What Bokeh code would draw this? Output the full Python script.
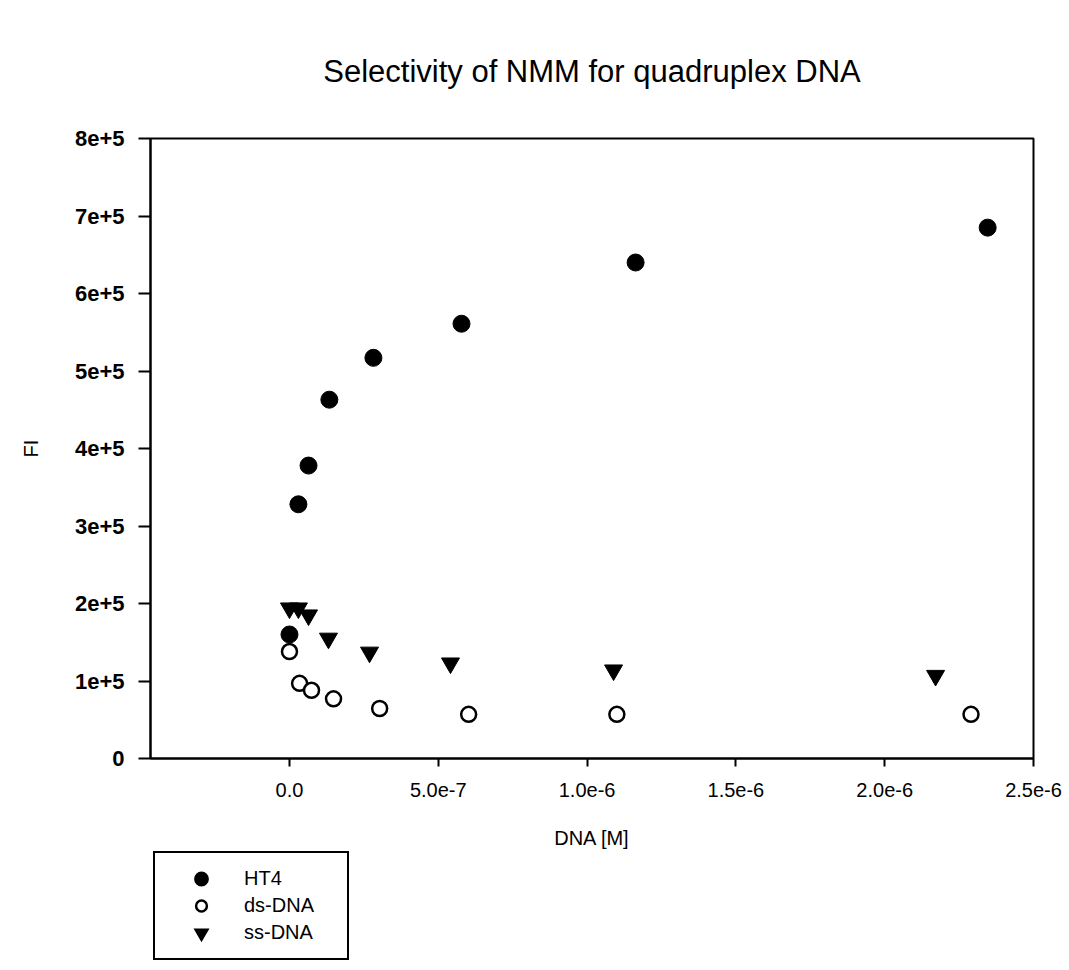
from bokeh.plotting import figure
from bokeh.layouts import column
from bokeh.models import Range1d, FixedTicker, Legend, LegendItem
from bokeh.embed import file_html
from bokeh.resources import INLINE

# ---- data ----
ht4_x = [0.0, 3.0e-8, 6.4e-8, 1.34e-7, 2.82e-7, 5.78e-7, 1.163e-6, 2.346e-6]
ht4_y = [1.60e5, 3.28e5, 3.78e5, 4.63e5, 5.17e5, 5.61e5, 6.40e5, 6.85e5]

ds_x = [0.0, 3.4e-8, 7.4e-8, 1.48e-7, 3.03e-7, 6.02e-7, 1.10e-6, 2.29e-6]
ds_y = [1.38e5, 0.97e5, 0.88e5, 0.77e5, 0.645e5, 0.57e5, 0.57e5, 0.57e5]

ss_x = [0.0, 3.0e-8, 6.4e-8, 1.31e-7, 2.69e-7, 5.41e-7, 1.089e-6, 2.171e-6]
ss_y = [1.94e5, 1.94e5, 1.85e5, 1.55e5, 1.37e5, 1.23e5, 1.14e5, 1.07e5]

x_ticks = [0.0, 5e-7, 1e-6, 1.5e-6, 2e-6, 2.5e-6]
x_tick_labels = ["0.0", "5.0e-7", "1.0e-6", "1.5e-6", "2.0e-6", "2.5e-6"]
y_ticks = [0, 1e5, 2e5, 3e5, 4e5, 5e5, 6e5, 7e5, 8e5]
y_tick_labels = ["0", "1e+5", "2e+5", "3e+5", "4e+5", "5e+5", "6e+5", "7e+5", "8e+5"]

series_names = ["HT4", "ds-DNA", "ss-DNA"]

FONT = "Liberation Sans"

p = figure(frame_width=883, frame_height=620,
           min_border_left=150, min_border_right=36,
           min_border_top=138, min_border_bottom=90,
           x_range=Range1d(-4.67e-7, 2.5e-6), y_range=Range1d(0, 8e5),
           output_backend="svg", toolbar_location=None,
           title="Selectivity of NMM for quadruplex DNA")

p.title.align = "center"
p.title.text_font = FONT
p.title.text_font_size = "31px"
p.title.text_font_style = "normal"
p.title.text_color = "black"
p.title.standoff = 100

p.grid.visible = False
p.outline_line_color = "black"
p.outline_line_width = 2
p.outline_line_alpha = 1
p.background_fill_color = "white"
p.border_fill_color = "white"

p.xaxis.ticker = FixedTicker(ticks=x_ticks)
p.xaxis.major_label_overrides = dict(zip(x_ticks, x_tick_labels))
p.yaxis.ticker = FixedTicker(ticks=y_ticks)
p.yaxis.major_label_overrides = {float(k): v for k, v in zip(y_ticks, y_tick_labels)}

for ax in (p.xaxis[0], p.yaxis[0]):
    ax.axis_line_width = 2
    ax.axis_line_color = "black"
    ax.major_tick_line_width = 2
    ax.major_tick_line_color = "black"
    ax.minor_tick_line_color = None
    ax.major_tick_in = 0
    ax.major_label_text_font = FONT
    ax.major_label_text_color = "black"
    ax.axis_label_text_font = FONT
    ax.axis_label_text_font_size = "20px"
    ax.axis_label_text_font_style = "normal"
    ax.axis_label_text_color = "black"

p.xaxis.major_label_text_font_size = "20px"
p.xaxis.major_tick_out = 8
p.xaxis.major_label_standoff = 16
p.xaxis.axis_label = "DNA [M]"
p.xaxis.axis_label_standoff = 27

p.yaxis.major_label_text_font_size = "22px"
p.yaxis.major_label_text_font_style = "bold"
p.yaxis.major_tick_out = 12
p.yaxis.major_label_standoff = 14
p.yaxis.axis_label = "FI"
p.yaxis.axis_label_standoff = 30

p.scatter(ht4_x, ht4_y, marker="circle", size=17,
          fill_color="black", line_color="black")
p.scatter(ss_x, ss_y, marker="inverted_triangle", size=18,
          fill_color="black", line_color="black")
p.scatter(ds_x, ds_y, marker="circle", size=15,
          fill_color="white", line_color="black", line_width=2.5)

# ---- legend strip below the chart (its own small canvas) ----
# The legend renderers reuse the series data; the strip's ranges lie far from
# the data so only the legend swatches are visible there.
lg = figure(width=1069, height=122, min_border=0,
            x_range=Range1d(10, 11), y_range=Range1d(10, 11),
            x_axis_type=None, y_axis_type=None,
            output_backend="svg", toolbar_location=None)
lg.outline_line_color = None
lg.grid.visible = False
lg.background_fill_color = "white"
lg.border_fill_color = "white"

l_ht4 = lg.scatter(ht4_x, ht4_y, marker="circle", fill_color="black",
                   line_color="black", line_width=4)
l_ds = lg.scatter(ds_x, ds_y, marker="circle", fill_color="white",
                  line_color="black", line_width=2.5)
l_ss = lg.scatter(ss_x, ss_y, marker="inverted_triangle", fill_color="black",
                  line_color="black", line_width=3, line_join="miter")

legend = Legend(items=[LegendItem(label=series_names[0], renderers=[l_ht4]),
                       LegendItem(label=series_names[1], renderers=[l_ds]),
                       LegendItem(label=series_names[2], renderers=[l_ss])],
                location=(3, 13),
                glyph_width=68, glyph_height=27, label_height=27, spacing=0,
                padding=12, margin=0, label_standoff=9, label_width=91,
                label_text_font=FONT, label_text_font_size="20px",
                label_text_color="black",
                border_line_color="black", border_line_width=2,
                border_line_alpha=1,
                background_fill_color="white", background_fill_alpha=1)
lg.add_layout(legend, "center")

layout = column(p, lg, spacing=0)
open("out.html", "w").write(file_html(layout, INLINE))
